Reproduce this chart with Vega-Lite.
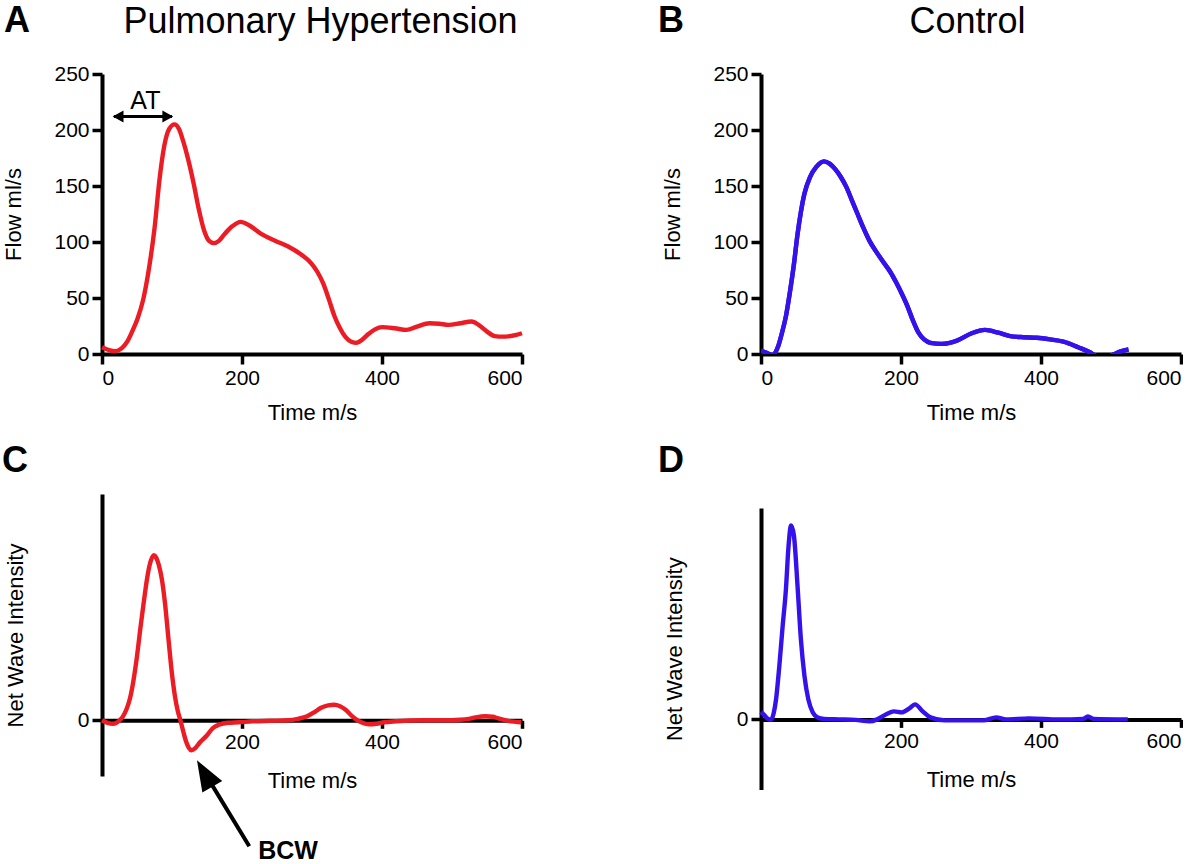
{
  "$schema": "https://vega.github.io/schema/vega-lite/v6.json",
  "background": "white",
  "padding": {"left": 2, "top": 3, "right": 0, "bottom": 0},
  "config": {
    "font": "Liberation Sans",
    "view": {"stroke": null},
    "axis": {
      "domainColor": "black", "domainWidth": 4, "tickColor": "black", "tickWidth": 3.5, "tickSize": 10,
      "labelFont": "Liberation Sans", "labelFontSize": 21, "labelColor": "black", "labelPadding": 3,
      "titleFont": "Liberation Sans", "titleFontSize": 22, "titleFontWeight": "normal", "titleColor": "black",
      "grid": false
    },
    "title": {"font": "Liberation Sans", "fontSize": 36, "fontWeight": "bold", "color": "black", "anchor": "start", "frame": "group", "baseline": "alphabetic"}
  },
  "datasets": {
    "ph_flow": [
      {"t": 0, "v": 6}, {"t": 10, "v": 3.5}, {"t": 19, "v": 2.5}, {"t": 28, "v": 5}, {"t": 36, "v": 11}, {"t": 43, "v": 20},
      {"t": 51, "v": 32}, {"t": 59, "v": 49}, {"t": 67, "v": 76}, {"t": 75, "v": 112}, {"t": 82, "v": 155}, {"t": 89, "v": 186},
      {"t": 96, "v": 201}, {"t": 103.5, "v": 205}, {"t": 110, "v": 201}, {"t": 116, "v": 190}, {"t": 123, "v": 174}, {"t": 131, "v": 152},
      {"t": 138, "v": 130}, {"t": 146, "v": 110}, {"t": 153, "v": 101}, {"t": 160, "v": 99}, {"t": 167, "v": 101}, {"t": 175, "v": 107},
      {"t": 186, "v": 114}, {"t": 198, "v": 118}, {"t": 210, "v": 115}, {"t": 228, "v": 107}, {"t": 248, "v": 101}, {"t": 266, "v": 96},
      {"t": 284, "v": 89}, {"t": 299, "v": 81}, {"t": 308, "v": 73}, {"t": 316, "v": 63}, {"t": 324, "v": 49}, {"t": 332, "v": 34},
      {"t": 340, "v": 23}, {"t": 348, "v": 15}, {"t": 356, "v": 11}, {"t": 364, "v": 10}, {"t": 372, "v": 13}, {"t": 381, "v": 18},
      {"t": 390, "v": 22}, {"t": 400, "v": 24}, {"t": 418, "v": 23}, {"t": 435, "v": 21.5}, {"t": 450, "v": 24.5}, {"t": 468, "v": 27.5},
      {"t": 482, "v": 27}, {"t": 495, "v": 26}, {"t": 512, "v": 27.5}, {"t": 528, "v": 29}, {"t": 538, "v": 26}, {"t": 550, "v": 20},
      {"t": 561, "v": 16}, {"t": 572, "v": 15.5}, {"t": 583, "v": 16}, {"t": 592, "v": 17}, {"t": 600, "v": 18.5}
    ],
    "ctrl_flow": [
      {"t": 0, "v": 3}, {"t": 8, "v": 1}, {"t": 16, "v": -1}, {"t": 24, "v": 6}, {"t": 30, "v": 19}, {"t": 36, "v": 35},
      {"t": 41, "v": 54}, {"t": 47, "v": 80}, {"t": 52, "v": 106}, {"t": 57, "v": 127}, {"t": 62, "v": 143}, {"t": 70, "v": 158},
      {"t": 79, "v": 167}, {"t": 90, "v": 172}, {"t": 98, "v": 170}, {"t": 106, "v": 165}, {"t": 114, "v": 158}, {"t": 122, "v": 149},
      {"t": 130, "v": 137}, {"t": 138, "v": 125}, {"t": 146, "v": 113}, {"t": 155, "v": 101}, {"t": 165, "v": 91}, {"t": 176, "v": 81},
      {"t": 185, "v": 73}, {"t": 193, "v": 64}, {"t": 201, "v": 54}, {"t": 209, "v": 43}, {"t": 217, "v": 30}, {"t": 225, "v": 19},
      {"t": 233, "v": 13}, {"t": 242, "v": 10}, {"t": 258, "v": 9}, {"t": 280, "v": 12}, {"t": 301, "v": 18.5}, {"t": 320, "v": 21.5},
      {"t": 339, "v": 19}, {"t": 356, "v": 16}, {"t": 375, "v": 15}, {"t": 394, "v": 14.5}, {"t": 413, "v": 13}, {"t": 432, "v": 11},
      {"t": 453, "v": 6}, {"t": 470, "v": 1.5}, {"t": 480, "v": -2}, {"t": 494, "v": -3}, {"t": 505, "v": 0}, {"t": 515, "v": 2.5},
      {"t": 525, "v": 4}
    ],
    "ph_wi": [
      {"t": 0, "v": 0}, {"t": 8, "v": -2.5}, {"t": 16, "v": -3.5}, {"t": 22, "v": -2}, {"t": 26, "v": 0.5}, {"t": 30, "v": 4},
      {"t": 35, "v": 11}, {"t": 40, "v": 22}, {"t": 45, "v": 40}, {"t": 50, "v": 64}, {"t": 55, "v": 93}, {"t": 60, "v": 120},
      {"t": 64, "v": 140}, {"t": 68, "v": 155}, {"t": 74, "v": 165}, {"t": 79, "v": 160}, {"t": 83, "v": 150}, {"t": 86, "v": 139},
      {"t": 90, "v": 117}, {"t": 95, "v": 81}, {"t": 100, "v": 46}, {"t": 104, "v": 25}, {"t": 108, "v": 10}, {"t": 112, "v": 0},
      {"t": 116, "v": -11}, {"t": 120, "v": -21}, {"t": 124, "v": -27.5}, {"t": 128, "v": -30}, {"t": 133, "v": -28}, {"t": 140, "v": -22},
      {"t": 150, "v": -15}, {"t": 158, "v": -8}, {"t": 167, "v": -4.5}, {"t": 180, "v": -2.5}, {"t": 195, "v": -2}, {"t": 215, "v": -1},
      {"t": 240, "v": -0.5}, {"t": 266, "v": 0}, {"t": 280, "v": 1.5}, {"t": 293, "v": 4}, {"t": 303, "v": 8}, {"t": 313, "v": 12.5},
      {"t": 323, "v": 15}, {"t": 332, "v": 15.5}, {"t": 340, "v": 14}, {"t": 348, "v": 10.5}, {"t": 356, "v": 5}, {"t": 364, "v": 0.5},
      {"t": 372, "v": -2.5}, {"t": 381, "v": -4}, {"t": 392, "v": -3.5}, {"t": 403, "v": -2}, {"t": 420, "v": -1}, {"t": 457, "v": 0},
      {"t": 500, "v": 0}, {"t": 512, "v": 0.5}, {"t": 524, "v": 1.5}, {"t": 534, "v": 3}, {"t": 548, "v": 4}, {"t": 558, "v": 3.5},
      {"t": 566, "v": 2}, {"t": 580, "v": -0.5}, {"t": 599, "v": -2}
    ],
    "ctrl_wi": [
      {"t": 0, "v": 7.5}, {"t": 5, "v": 4}, {"t": 10, "v": 0.5}, {"t": 14, "v": -0.5}, {"t": 18, "v": 6}, {"t": 21.5, "v": 20},
      {"t": 26, "v": 52}, {"t": 31, "v": 94}, {"t": 35.7, "v": 131}, {"t": 39, "v": 170}, {"t": 43, "v": 194}, {"t": 47, "v": 184},
      {"t": 52.4, "v": 131}, {"t": 57, "v": 80}, {"t": 62, "v": 44}, {"t": 67.6, "v": 20}, {"t": 74, "v": 7}, {"t": 81, "v": 2},
      {"t": 90, "v": 0.5}, {"t": 111, "v": 0}, {"t": 135, "v": -0.5}, {"t": 155, "v": -2}, {"t": 166, "v": 0}, {"t": 176, "v": 4},
      {"t": 190, "v": 8}, {"t": 201, "v": 7}, {"t": 212, "v": 11}, {"t": 220, "v": 15}, {"t": 231, "v": 8}, {"t": 242, "v": 2},
      {"t": 263, "v": -1}, {"t": 290, "v": -1}, {"t": 318, "v": -1}, {"t": 336, "v": 2}, {"t": 350, "v": 0}, {"t": 383, "v": 1},
      {"t": 426, "v": 0}, {"t": 460, "v": 0.5}, {"t": 467, "v": 3}, {"t": 475, "v": 0.5}, {"t": 524, "v": 0}
    ]
  },
  "columns": 2,
  "align": {"row": "none", "column": "all"},
  "spacing": {"row": 20, "column": 127},
  "concat": [
    {
      "width": 420, "height": 280,
      "title": {"text": "A", "dx": -98, "offset": -37},
      "encoding": {
        "y": {"field": "v", "type": "quantitative", "scale": {"domain": [0, 250], "nice": false},
              "axis": {"values": [0, 50, 100, 150, 200, 250], "title": "Flow ml/s", "titlePadding": 28}}
      },
      "layer": [
        {
          "data": {"name": "ph_flow"},
          "mark": {"type": "line", "color": "#EC1C24", "strokeWidth": 4.4, "interpolate": "monotone"},
          "encoding": {
            "x": {"field": "t", "type": "quantitative", "scale": {"domain": [0, 600], "nice": false},
                  "axis": {"values": [0, 200, 400, 600], "title": "Time m/s", "titlePadding": 14}}
          }
        },
        {
          "data": {"values": [{"t": 17, "t2": 100, "v": 212}]},
          "mark": {"type": "rule", "color": "black", "strokeWidth": 3},
          "encoding": {
            "x": {"field": "t", "type": "quantitative",
                  "axis": {"orient": "top", "title": "Pulmonary Hypertension", "labels": false, "ticks": false, "domain": false,
                           "titleFontSize": 36, "titlePadding": 34, "titleX": 218}},
            "x2": {"field": "t2"}
          }
        },
        {
          "data": {"values": [{"t": 15.3, "v": 212}]},
          "mark": {"type": "point", "shape": "M0,0L1,1.8L-1,1.8Z", "size": 144, "filled": true, "color": "black", "opacity": 1, "angle": 270},
          "encoding": {"x": {"field": "t", "type": "quantitative", "axis": null}}
        },
        {
          "data": {"values": [{"t": 101.7, "v": 212}]},
          "mark": {"type": "point", "shape": "M0,0L1,1.8L-1,1.8Z", "size": 144, "filled": true, "color": "black", "opacity": 1, "angle": 90},
          "encoding": {"x": {"field": "t", "type": "quantitative", "axis": null}}
        },
        {
          "data": {"values": [{"t": 62, "v": 218.5, "label": "AT"}]},
          "mark": {"type": "text", "fontSize": 25, "color": "black", "align": "center", "baseline": "alphabetic"},
          "encoding": {
            "x": {"field": "t", "type": "quantitative", "axis": null},
            "text": {"field": "label"}
          }
        }
      ],
      "resolve": {"axis": {"x": "independent"}}
    },
    {
      "width": 420, "height": 280,
      "title": {"text": "B", "dx": -103, "offset": -37},
      "data": {"name": "ctrl_flow"},
      "encoding": {
        "y": {"field": "v", "type": "quantitative", "scale": {"domain": [0, 250], "nice": false},
              "axis": {"values": [0, 50, 100, 150, 200, 250], "title": "Flow ml/s", "titlePadding": 28}}
      },
      "layer": [
        {
          "mark": {"type": "line", "color": "#3512EC", "strokeWidth": 4.4, "interpolate": "monotone", "clip": true},
          "encoding": {
            "x": {"field": "t", "type": "quantitative", "scale": {"domain": [0, 600], "nice": false},
                  "axis": {"values": [0, 200, 400, 600], "title": "Time m/s", "titlePadding": 14}}
          }
        },
        {
          "mark": {"type": "line", "color": "#3512EC", "strokeWidth": 4.4, "interpolate": "monotone", "clip": true},
          "encoding": {
            "x": {"field": "t", "type": "quantitative",
                  "axis": {"orient": "top", "title": "Control", "labels": false, "ticks": false, "domain": false,
                           "titleFontSize": 36, "titlePadding": 34, "titleX": 206}}
          }
        }
      ],
      "resolve": {"axis": {"x": "independent"}}
    },
    {
      "width": 420, "height": 282,
      "title": {"text": "C", "dx": -100, "offset": 14},
      "encoding": {
        "x": {"field": "t", "type": "quantitative", "scale": {"domain": [0, 600], "nice": false},
              "axis": {"values": [200, 400, 600], "title": "Time m/s", "offset": -55.7, "tickSize": 8, "titlePadding": 18}},
        "y": {"field": "v", "type": "quantitative", "scale": {"domain": [-55.7, 226.3], "nice": false, "zero": false},
              "axis": {"values": [0], "title": "Net Wave Intensity", "titlePadding": 50}}
      },
      "layer": [
        {
          "data": {"name": "ph_wi"},
          "mark": {"type": "line", "color": "#EC1C24", "strokeWidth": 4.4, "interpolate": "monotone"}
        },
        {
          "data": {"values": [{"t": 146.9, "v": -52.8, "t2": 210.4, "v2": -126}]},
          "mark": {"type": "rule", "color": "black", "strokeWidth": 4},
          "encoding": {"x2": {"field": "t2"}, "y2": {"field": "v2"}}
        },
        {
          "data": {"values": [{"t": 135.7, "v": -40}]},
          "mark": {"type": "point", "shape": "M0,0L0.75,2L-0.75,2Z", "size": 936, "filled": true, "color": "black", "opacity": 1, "angle": 330}
        },
        {
          "data": {"values": [{"t": 265.7, "v": -138.6, "label": "BCW"}]},
          "mark": {"type": "text", "fontSize": 25, "fontWeight": "bold", "color": "black", "align": "center", "baseline": "alphabetic"},
          "encoding": {"text": {"field": "label"}}
        }
      ]
    },
    {
      "width": 420, "height": 281.4,
      "title": {"text": "D", "dx": -103, "offset": 28},
      "data": {"name": "ctrl_wi"},
      "mark": {"type": "line", "color": "#3512EC", "strokeWidth": 4.4, "interpolate": "monotone"},
      "encoding": {
        "x": {"field": "t", "type": "quantitative", "scale": {"domain": [0, 600], "nice": false},
              "axis": {"values": [200, 400, 600], "title": "Time m/s", "offset": -70, "tickSize": 8, "titlePadding": 18}},
        "y": {"field": "v", "type": "quantitative", "scale": {"domain": [-70, 211.4], "nice": false, "zero": false},
              "axis": {"values": [0], "title": "Net Wave Intensity", "titlePadding": 50}}
      }
    }
  ]
}
